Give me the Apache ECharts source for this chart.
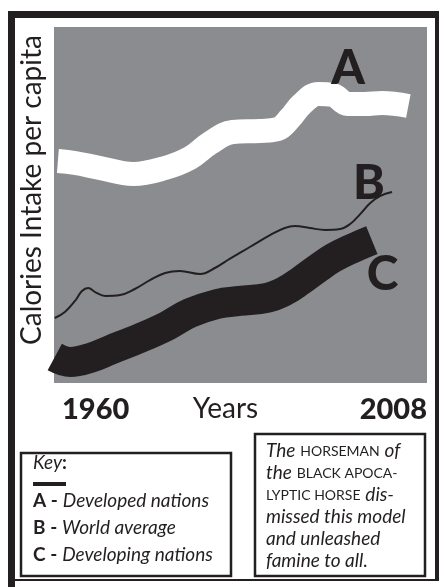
<!DOCTYPE html>
<html>
<head>
<meta charset="utf-8">
<script src="https://cdn.jsdelivr.net/npm/echarts@6/dist/echarts.min.js"></script>
<style>
  html, body { margin: 0; padding: 0; background: #fff; }
  #main { width: 444px; height: 587px; }
</style>
</head>
<body>
<div id="main"></div>
<script>
let yearsA = [1960.5, 1962.7, 1965.9, 1970.2, 1974.3, 1977.5, 1980.1, 1983.0, 1986.5, 1988.8, 1990.4, 1991.9, 1994.0, 1995.9, 1997.8, 2000.0, 2002.2, 2005.6];
let kcalA  = [2747, 2736, 2708, 2674, 2708, 2764, 2848, 2910, 2916, 2927, 2989, 3067, 3124, 3118, 3067, 3067, 3073, 3056];

let yearsB = [1960.1, 1961.4, 1962.7, 1963.6, 1964.4, 1965.3, 1966.6, 1968.5, 1970.4, 1972.4, 1974.3, 1976.2, 1978.8, 1980.7, 1982.6, 1985.2, 1987.8, 1989.7, 1991.0, 1992.9, 1994.9, 1996.8, 1998.1, 1999.4, 2000.7, 2002.0, 2003.5];
let kcalB  = [1865, 1899, 1961, 2017, 2034, 2011, 1989, 1994, 2028, 2079, 2118, 2129, 2112, 2146, 2197, 2264, 2331, 2371, 2382, 2371, 2360, 2365, 2393, 2449, 2511, 2551, 2573];

let yearsC = [1960.1, 1962.1, 1964.6, 1967.2, 1971.1, 1974.5, 1977.5, 1981.0, 1983.9, 1987.4, 1989.7, 1991.7, 1994.0, 1995.9, 1998.5, 2000.9];
let kcalC  = [1646, 1618, 1640, 1685, 1753, 1820, 1893, 1944, 1961, 1978, 2017, 2073, 2146, 2202, 2258, 2303];

let seriesKeys = ['A', 'B', 'C'];
let seriesNames = ['Developed nations', 'World average', 'Developing nations'];
let yearTicks = [1960, 2008];
let xTitle = 'Years';
let yTitle = 'Calories Intake per capita';
let keyTitle = 'Key';
let noteLines = [
  '{i|The} {sc|HORSEMAN} {i|of}',
  '{i|the} {sc|BLACK APOCA-}',
  '{sc|LYPTIC HORSE} {i|dis-}',
  '{i|missed this model}',
  '{i|and unleashed}',
  '{i|famine to all.}'
];

function zip(xs, ys) {
  return xs.map(function (x, i) { return [x, ys[i]]; });
}

var FONT = 'Lato, "DejaVu Sans", sans-serif';

var chartDom = document.getElementById('main');
var myChart = echarts.init(chartDom);

var keyRich = {
  b: { fontFamily: FONT, fontWeight: 'bold', fontSize: 19, fill: '#231f20' },
  i: { fontFamily: FONT, fontStyle: 'italic', fontSize: 19, fill: '#231f20' }
};
var keyText = seriesKeys.map(function (k, i) {
  return '{b|' + k + ' -} {i|' + seriesNames[i] + '}';
}).join('\n');

var noteRich = {
  i: { fontFamily: FONT, fontStyle: 'italic', fontSize: 19, fill: '#231f20', lineHeight: 22 },
  sc: { fontFamily: FONT, fontSize: 14, fill: '#231f20', lineHeight: 22 }
};

var bigLetter = { fontFamily: FONT, fontWeight: 900, fontSize: 48, color: '#231f20' };

var option = {
  animation: false,
  backgroundColor: '#fff',
  grid: { left: 54, right: 17, top: 27, bottom: 204, show: true, backgroundColor: '#8b8c8f', borderWidth: 0 },
  xAxis: {
    type: 'value',
    min: yearTicks[0],
    max: yearTicks[1],
    interval: yearTicks[1] - yearTicks[0],
    axisLine: { show: false },
    axisTick: { show: false },
    splitLine: { show: false },
    axisLabel: {
      margin: 12,
      fontFamily: FONT,
      fontWeight: 900,
      fontSize: 29,
      color: '#231f20',
      alignMinLabel: 'left',
      alignMaxLabel: 'right',
      padding: [0, 0, 0, 8],
      formatter: function (v) { return String(v); }
    },
    name: xTitle,
    nameLocation: 'middle',
    nameGap: 12,
    nameMoveOverlap: false,
    nameTextStyle: { fontFamily: FONT, fontSize: 28, color: '#231f20', padding: [0, 30, 0, 0] }
  },
  yAxis: {
    type: 'value',
    min: 1500,
    max: 3500,
    axisLine: { show: false },
    axisTick: { show: false },
    splitLine: { show: false },
    axisLabel: { show: false },
    name: yTitle,
    nameLocation: 'middle',
    nameGap: 8,
    nameMoveOverlap: false,
    nameTextStyle: { fontFamily: FONT, fontSize: 28, color: '#231f20', padding: [0, 0, 0, 30] }
  },
  series: [
    {
      name: seriesNames[0],
      type: 'line',
      smooth: 0.4,
      showSymbol: false,
      lineStyle: { color: '#ffffff', width: 24 },
      data: zip(yearsA, kcalA),
      endLabel: Object.assign({ show: true, formatter: seriesKeys[0], position: 'inside', offset: [-85, -38] }, bigLetter)
    },
    {
      name: seriesNames[1],
      type: 'line',
      smooth: 0.4,
      showSymbol: false,
      lineStyle: { color: '#231f20', width: 2 },
      data: zip(yearsB, kcalB),
      endLabel: Object.assign({ show: true, formatter: seriesKeys[1], position: 'inside', offset: [-47, -8] }, bigLetter)
    },
    {
      name: seriesNames[2],
      type: 'line',
      smooth: 0.4,
      showSymbol: false,
      lineStyle: { color: '#231f20', width: 30 },
      data: zip(yearsC, kcalC),
      endLabel: Object.assign({ show: true, formatter: seriesKeys[2], position: 'inside', offset: [-13, 34] }, bigLetter)
    }
  ],
  graphic: [
    // outer frame: heavy on the left/top, thin right/bottom
    { type: 'rect', z: -10, silent: true, shape: { x: 8, y: 11, width: 431, height: 570 }, style: { fill: '#231f20' } },
    { type: 'rect', z: -9, silent: true, shape: { x: 15, y: 18, width: 420, height: 561 }, style: { fill: '#ffffff' } },
    { type: 'rect', z: -10, silent: true, shape: { x: 8, y: 580, width: 7, height: 7 }, style: { fill: '#231f20' } },
    // key box
    { type: 'rect', shape: { x: 21, y: 453, width: 210, height: 123 }, style: { fill: 'none', stroke: '#231f20', lineWidth: 2.5 } },
    {
      type: 'text', x: 33, y: 453,
      style: {
        text: '{i|' + keyTitle + '}{b|:}', font: '19px ' + FONT,
        rich: { i: keyRich.i, b: keyRich.b }
      }
    },
    { type: 'rect', shape: { x: 33, y: 482, width: 33, height: 4 }, style: { fill: '#231f20' } },
    {
      type: 'text', x: 33, y: 487,
      style: {
        text: keyText, font: '19px ' + FONT, lineHeight: 27,
        rich: {
          b: Object.assign({ lineHeight: 27 }, keyRich.b),
          i: Object.assign({ lineHeight: 27 }, keyRich.i)
        }
      }
    },
    // note box
    { type: 'rect', shape: { x: 255, y: 434, width: 170, height: 142 }, style: { fill: 'none', stroke: '#231f20', lineWidth: 2.5 } },
    {
      type: 'text', x: 266, y: 440,
      style: { text: noteLines.join('\n'), font: '19px ' + FONT, lineHeight: 22, rich: noteRich }
    }
  ]
};

myChart.setOption(option);
</script>
</body>
</html>
